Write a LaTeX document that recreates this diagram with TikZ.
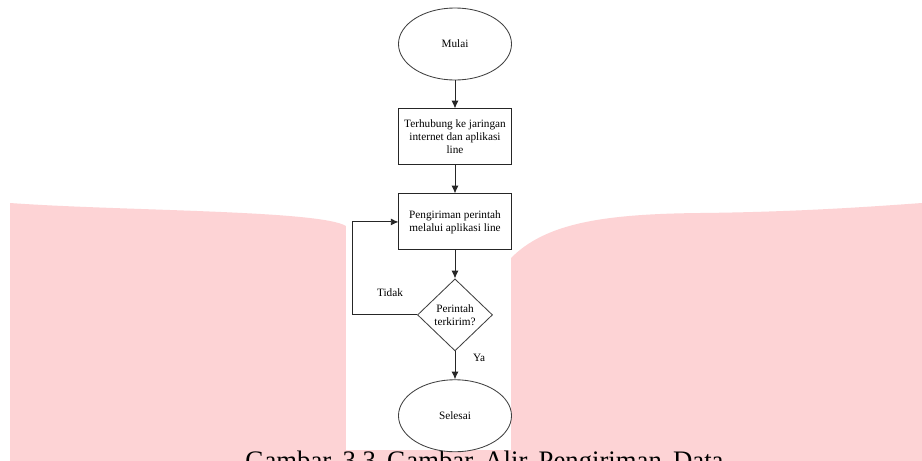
\documentclass[tikz,border=0pt]{standalone}
\usepackage{xcolor}
\usepackage{fontspec}
\setmainfont{Liberation Serif}
\usepackage{tikz}
\usetikzlibrary{positioning,shapes.geometric,arrows.meta}

\definecolor{bgpink}{RGB}{253,211,213}

\begin{document}
\begin{tikzpicture}[
				x=0.025cm, y=-0.025cm,
				startnode/.style={ellipse, draw=black!75, line width=0.6pt, fill=white, minimum width=2.825cm, minimum height=1.8cm, font=\fontsize{8}{9.3}\selectfont},
				procnode/.style={rectangle, draw=black!85, line width=0.7pt, fill=white, minimum width=2.8cm, minimum height=1.4cm, align=center, font=\fontsize{8}{9.3}\selectfont},
				decnode/.style={diamond, draw=black!75, line width=0.6pt, fill=white, minimum width=1.875cm, minimum height=1.8cm, inner sep=0pt, align=center, font=\fontsize{8}{9.3}\selectfont},
				lbl/.style={font=\fontsize{8}{9.3}\selectfont},
				arr/.style={-{Latex[length=5.5pt,width=5pt]}, draw=black!85, line width=0.7pt},
				node distance = 0.7cm,
				]
				%Background
				\clip (0,0) rectangle (922,461);
				\fill[white] (0,0) rectangle (922,461);
				\fill[bgpink] (10,203) .. controls (120,211) and (320,210) .. (346,226) -- (346,461) -- (10,461) -- cycle;
				\fill[bgpink] (346,440) rectangle (511,461);
				\fill[bgpink] (511,258) .. controls (545,224) and (600,214) .. (700,213) .. controls (800,212) and (880,206) .. (922,203) -- (922,461) -- (511,461) -- cycle;
				\fill[white] (346,0) rectangle (511,450);
				\node[anchor=base west, font=\fontsize{19}{21}\selectfont, inner sep=0pt] (caption) at (245,469) {\spaceskip=0.42em\relax Gambar 3.3 Gambar Alir Pengiriman Data};
				
				%Nodes
				\node[startnode](start) at (455,44){Mulai};
				\node[procnode](connect)[below=of start]{Terhubung ke jaringan\\internet dan aplikasi\\line};
				\node[procnode](send)[below=of connect]{Pengiriman perintah\\melalui aplikasi line};
				\node[decnode](check)[below=of send]{Perintah\\terkirim?};
				\node[startnode](finish)[below=of check]{Selesai};
				\node[lbl](no) at (390,293){Tidak};
				\node[lbl](yes) at (479,358){Ya};
				
				%Lines
				\draw[arr] (start.south) -- (connect.north);
				\draw[arr] (connect.south) -- (send.north);
				\draw[arr] (send.south) -- (check.north);
				\draw[arr] (check.south) -- (finish.north);
				\draw[arr] (check.west) -- ++(-1.625cm,0) |- (send.west);
				
			\end{tikzpicture}
\end{document}
